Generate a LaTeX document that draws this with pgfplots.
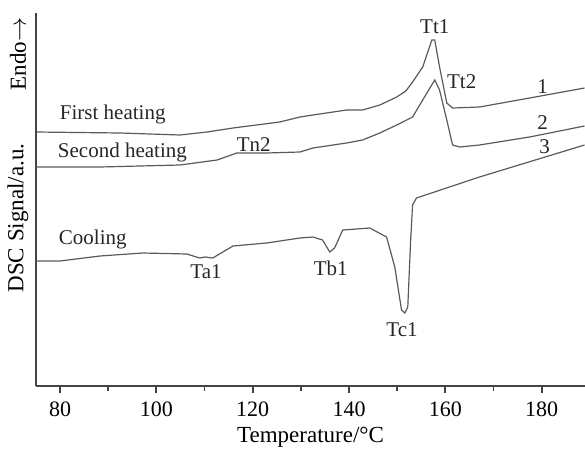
\documentclass[border=0pt]{standalone}
\usepackage{pgfplots}
\pgfplotsset{compat=1.18}
\usepackage{fontspec}
\setmainfont{Liberation Serif}
\definecolor{curve}{HTML}{5A5A5A}
\definecolor{axisc}{HTML}{444444}

% curves: x = temperature, y = -(pixel row)
\begin{document}
\begin{tikzpicture}
\path[use as bounding box] (-18pt,-32.5pt) rectangle (274.5pt,193pt);
\begin{axis}[
    name=ax,
    scale only axis,
    width=274.5pt, height=186.5pt,
    xmin=75, xmax=189,
    ymin=-386, ymax=-13,
    axis x line=bottom,
    axis y line=left,
    axis line style={-, axisc, line width=0.8pt},
    xtick={80,100,...,180},
    minor xtick={90,110,...,170},
    ytick=\empty,
    xtick pos=bottom,
    xtick align=outside,
    major tick length=3.5pt,
    minor tick length=2.5pt,
    tick style={draw=axisc, line width=0.9pt},
    ticklabel style={font=\fontsize{11}{12}\selectfont},
    xticklabel style={yshift=-1pt},
    /pgf/number format/assume math mode=true,
    xlabel={Temperature/°C},
    xlabel style={font=\fontsize{11.5}{13}\selectfont, at={(axis description cs:0.5,0)}, anchor=north, yshift=-17pt},
    clip=false,
]
% 1: first heating
\addplot[curve, line width=0.6pt, mark=none] coordinates {
(75.0,-132) (92.4,-133) (104.9,-135) (110.5,-132) (115.9,-128) (125.6,-122) (129.8,-117)
(132.5,-115) (139.5,-110) (142.8,-110) (146.4,-105) (149.9,-97) (151.8,-91) (153.2,-82)
(155.3,-67) (157.2,-40) (157.8,-40) (158.8,-67) (160.3,-103) (161.5,-108)
(167.1,-107) (177.5,-98) (188.9,-88)};
% 2: second heating
\addplot[curve, line width=0.6pt, mark=none] coordinates {
(75.0,-167) (88.3,-167) (104.9,-165) (112.6,-160) (116.7,-153) (122.9,-153)
(129.8,-152) (132.5,-148) (139.5,-143) (142.8,-140) (146.4,-133) (149.9,-125)
(153.2,-117) (155.3,-100) (157.8,-80) (158.8,-90) (160.3,-120) (161.5,-145)
(163.0,-147) (167.1,-145) (177.5,-137) (188.9,-126)};
% 3: cooling
\addplot[curve, line width=0.6pt, mark=none] coordinates {
(75.0,-261) (80.0,-261) (88.3,-256) (97.2,-253) (106.3,-254) (109.0,-258)
(110.1,-257) (111.7,-258) (115.9,-246) (122.9,-243) (129.8,-238) (132.5,-237)
(134.5,-240) (136.0,-252) (137.0,-248) (138.7,-230) (144.3,-228) (147.8,-237)
(149.5,-267) (150.9,-310) (151.6,-313) (152.2,-307) (152.8,-240) (153.2,-205)
(154.0,-198) (167.1,-177) (188.9,-145)};

\begin{scope}[font=\fontsize{10.5}{12}\selectfont, text=black!85]
\node[anchor=west] at (axis cs:78.5,-114) {First heating};
\node[anchor=west] at (axis cs:78.1,-152) {Second heating};
\node at (axis cs:120.2,-145) {Tn2};
\node[anchor=west] at (axis cs:78.3,-239) {Cooling};
\node at (axis cs:110.3,-272) {Ta1};
\node at (axis cs:136.2,-268) {Tb1};
\node at (axis cs:151.0,-330) {Tc1};
\node at (axis cs:157.8,-27) {Tt1};
\node at (axis cs:163.4,-82) {Tt2};
\node at (axis cs:180.2,-87) {1};
\node at (axis cs:180.2,-123) {2};
\node at (axis cs:180.6,-147) {3};
\end{scope}
\end{axis}
\node[rotate=90, font=\fontsize{11.5}{13}\selectfont] at (-9pt,84pt) {DSC Signal/a.u.};
\node[rotate=90, font=\fontsize{11.5}{13}\selectfont] at (-9pt,166pt) {Endo$\rightarrow$};
\end{tikzpicture}
\end{document}
